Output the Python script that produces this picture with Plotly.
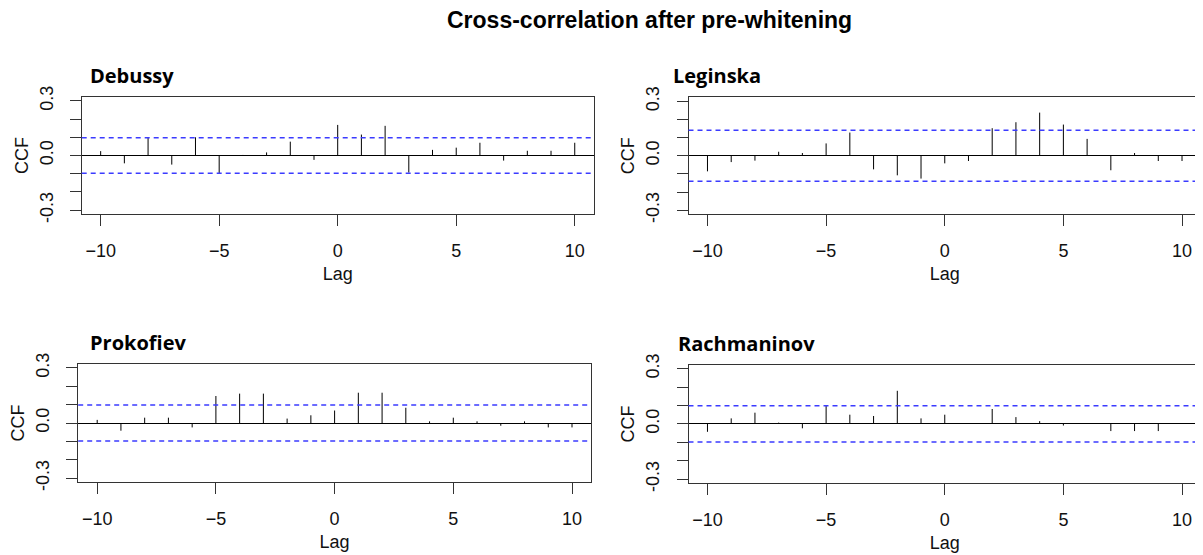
import plotly.graph_objects as go

lags = list(range(-10, 11))
panel_names = ["Debussy", "Leginska", "Prokofiev", "Rachmaninov"]

debussy = [0.024, -0.043, 0.10, -0.05, 0.10, -0.098, 0.003, 0.017, 0.076, -0.024, 0.168,
           0.115, 0.163, -0.094, 0.031, 0.043, 0.07, -0.028, 0.026, 0.026, 0.07]
leginska = [-0.086, -0.035, -0.027, 0.022, 0.015, 0.068, 0.128, -0.075, -0.108, -0.126, -0.042,
            -0.029, 0.152, 0.185, 0.238, 0.172, 0.093, -0.08, 0.015, -0.029, -0.029]
prokofiev = [0.017, -0.042, 0.029, 0.029, -0.024, 0.147, 0.16, 0.16, 0.024, 0.042, 0.068,
             0.165, 0.165, 0.083, 0.009, 0.029, 0.009, -0.015, 0.009, -0.024, -0.024]
rachmaninov = [-0.043, 0.03, 0.061, 0.007, -0.024, 0.098, 0.05, 0.043, 0.18, 0.03, 0.05,
               0.002, 0.081, 0.037, 0.015, -0.009, 0.002, -0.039, -0.039, -0.039, 0.002]
series = [debussy, leginska, prokofiev, rachmaninov]
conf_limits = [0.098, 0.14, 0.098, 0.099]

x_ticks = [-10, -5, 0, 5, 10]
y_ticks = [-0.3, -0.2, -0.1, 0.0, 0.1, 0.2, 0.3]
y_tick_text = ["-0.3", "", "", "0.0", "", "", "0.3"]

main_title = "Cross-correlation after pre-whitening"
x_title = "Lag"
y_title = "CCF"

# page is offset by the default 8px body margin
OFF = 8
W, H = 1194, 546


def px(p):
    return (p - OFF) / W


def py(p):
    return 1 - (p - OFF) / H


# panel boxes in page pixels: x0, x1, ytop, ybottom
boxes = [(81.7, 593.7, 96.7, 214.3),
         (688.5, 1201.0, 97.2, 214.3),
         (78.2, 591.0, 363.7, 482.3),
         (688.5, 1201.0, 364.5, 483.3)]
title_left = [88, 671, 88, 676]

fig = go.Figure()
axis_font = dict(family="Liberation Sans, Arial, sans-serif", size=18, color="#111")
line_col = "#333"

for i, (name, vals, ci, box) in enumerate(zip(panel_names, series, conf_limits, boxes)):
    n = "" if i == 0 else str(i + 1)
    xs, ys = [], []
    for lag, v in zip(lags, vals):
        xs += [lag, lag, None]
        ys += [0, v, None]
    fig.add_trace(go.Scatter(x=xs, y=ys, mode="lines", line=dict(color="black", width=1),
                             xaxis="x" + n, yaxis="y" + n, showlegend=False, hoverinfo="skip"))
    for c in (ci, -ci):
        fig.add_shape(type="line", xref="x" + n + " domain", yref="y" + n, x0=0, x1=1, y0=c, y1=c,
                      line=dict(color="#3b3bff", width=1.5, dash="5px,4px"))
    x0, x1, yt, yb = box
    fig.layout["xaxis" + n] = dict(
        domain=[px(x0), px(x1)], anchor="y" + n, range=[-10.8, 10.8],
        tickvals=x_ticks, ticks="outside", ticklen=11, tickcolor=line_col, tickwidth=1,
        ticklabelstandoff=9,
        showline=True, mirror=True, linecolor=line_col, linewidth=1,
        showgrid=False, zeroline=False, tickfont=axis_font, automargin=False,
        title=dict(text=x_title, font=axis_font, standoff=7))
    fig.layout["yaxis" + n] = dict(
        domain=[py(yb), py(yt)], anchor="x" + n, range=[-0.323, 0.323],
        tickvals=y_ticks, ticktext=y_tick_text, ticks="outside", ticklen=11, tickcolor=line_col,
        tickwidth=1, tickangle=-90, ticklabelstandoff=10,
        showline=True, mirror=True, linecolor=line_col, linewidth=1,
        showgrid=False, zeroline=True, zerolinecolor="black", zerolinewidth=1,
        tickfont=axis_font, automargin=False,
        title=dict(text=y_title, font=axis_font, standoff=3))
    fig.add_annotation(text="<b>" + name + "</b>", xref="paper", yref="paper",
                       x=px(title_left[i]), y=py(yt - 6), xanchor="left", yanchor="bottom",
                       showarrow=False, font=dict(family="Open Sans, Noto Sans, sans-serif", size=20, color="black"))

fig.add_annotation(text="<b>" + main_title + "</b>", xref="paper", yref="paper",
                   x=px(649), y=py(20), xanchor="center", yanchor="middle", showarrow=False,
                   font=dict(family="Liberation Sans, Arial, sans-serif", size=23, color="black"))

fig.update_layout(width=W, height=H, margin=dict(l=0, r=0, t=0, b=0),
                  paper_bgcolor="white", plot_bgcolor="white", template="none")
fig.write_html("out.html")
